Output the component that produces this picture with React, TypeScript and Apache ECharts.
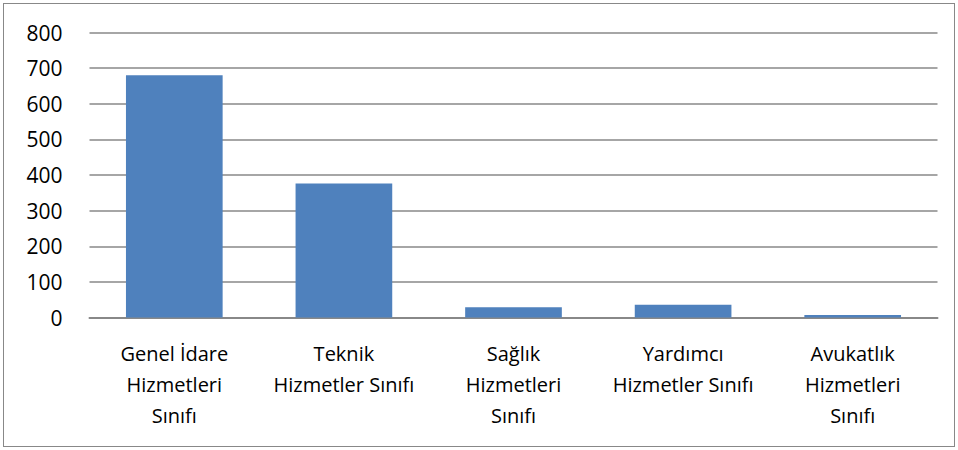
import React, { useEffect, useRef } from "react";
import * as echarts from "echarts";

const categories = [
  "Genel İdare\nHizmetleri\nSınıfı",
  "Teknik\nHizmetler Sınıfı",
  "Sağlık\nHizmetleri\nSınıfı",
  "Yardımcı\nHizmetler Sınıfı",
  "Avukatlık\nHizmetleri\nSınıfı",
];
const values = [680, 376, 29, 36, 7];

export default function App() {
  const ref = useRef<HTMLDivElement>(null);
  useEffect(() => {
    const chart = echarts.init(ref.current!, null, { renderer: "svg" });
    chart.setOption({
      animation: false,
      grid: { left: 85.5, right: 16.5, top: 28.5, bottom: 128.5, containLabel: false },
      xAxis: {
        type: "category",
        data: categories,
        axisTick: { show: false },
        axisLine: { show: true, lineStyle: { color: "#888888", width: 2 } },
        axisLabel: {
          color: "#000",
          fontSize: 20,
          fontFamily: "Open Sans",
          lineHeight: 31,
          margin: 20,
          interval: 0,
        },
      },
      yAxis: {
        type: "value",
        min: 0,
        max: 800,
        interval: 100,
        axisLine: { show: false },
        axisTick: { show: false },
        axisLabel: { color: "#000", fontSize: 21, fontFamily: "Open Sans", margin: 27 },
        splitLine: { lineStyle: { color: "#888888", width: 1.5 } },
      },
      series: [
        {
          type: "bar",
          data: values,
          barWidth: "57%",
          itemStyle: { color: "#4f81bd" },
        },
      ],
    });
    return () => chart.dispose();
  }, []);
  return (
    <div
      style={{
        position: "absolute",
        left: 3,
        top: 3,
        width: 950,
        height: 442,
        border: "1.5px solid #888",
        background: "#fff",
      }}
    >
      <div ref={ref} style={{ width: 950, height: 442 }} />
    </div>
  );
}
